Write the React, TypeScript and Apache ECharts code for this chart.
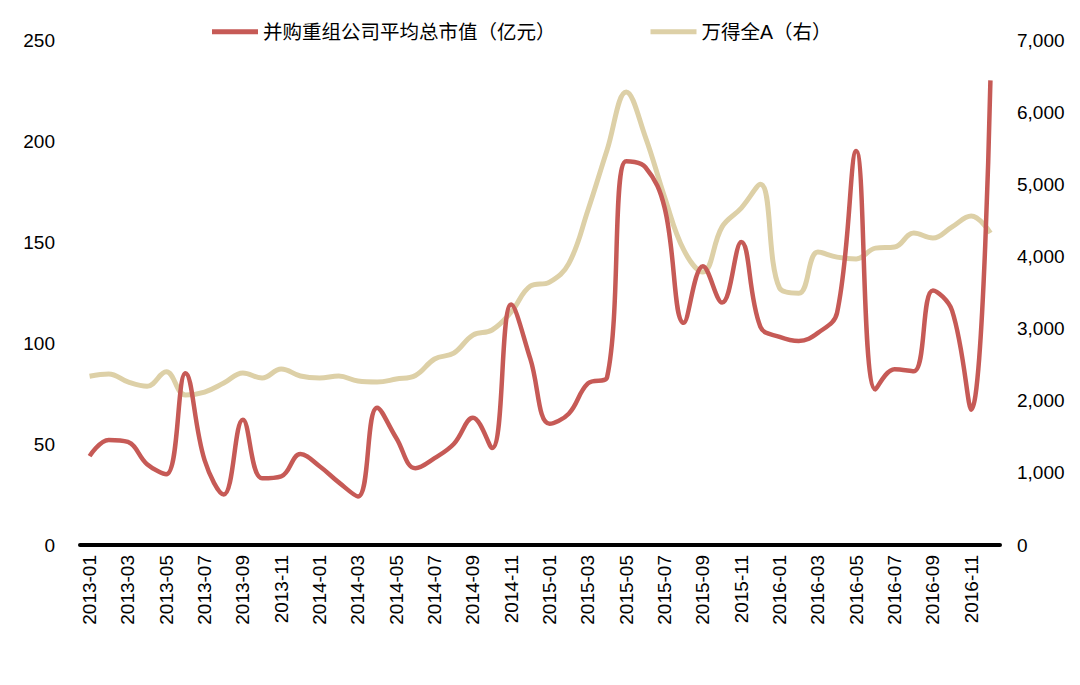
import React, { useEffect, useRef } from "react";
import * as echarts from "echarts";

const months: string[] = [];
for (let y = 2013; y <= 2016; y++) {
  for (let m = 1; m <= 12; m++) months.push(`${y}-${m < 10 ? "0" + m : m}`);
}

const mnaAvgCap = [
  44, 52, 51, 40, 35, 85, 42, 25, 62, 33,
  34, 45, 39, 31, 24, 68, 53, 38, 43, 50,
  63, 48, 119, 92, 60, 65, 80, 83, 190, 187,
  167, 110, 138, 120, 150, 108, 103, 101, 105, 115,
  195, 77, 87, 86, 126, 116, 67, 230,
];

const windA = [
  2340, 2370, 2260, 2200, 2400, 2080, 2120, 2245, 2384, 2315,
  2440, 2342, 2315, 2342, 2273, 2260, 2300, 2350, 2578, 2660,
  2910, 2980, 3230, 3590, 3645, 3900, 4640, 5475, 6280, 5655,
  4823, 4090, 3784, 4410, 4670, 5000, 3560, 3490, 4060, 3990,
  3965, 4115, 4130, 4325, 4255, 4410, 4560, 4325,
];

const leftTicks = { min: 0, max: 250, interval: 50 };
const rightTicks = { min: 0, max: 7000, interval: 1000 };

const seriesNames = ["并购重组公司平均总市值（亿元）", "万得全A（右）"];
const colors = ["#C65A56", "#DDD0A7"];

export default function App() {
  const ref = useRef<HTMLDivElement>(null);
  useEffect(() => {
    if (!ref.current) return;
    const chart = echarts.init(ref.current, undefined, { renderer: "svg" });
    const font = "'Liberation Sans', Arial, 'Noto Sans CJK SC', sans-serif";
    chart.setOption({
      animation: false,
      textStyle: { fontFamily: font },
      legend: {
        top: 17,
        left: 207,
        itemGap: 95,
        itemWidth: 46,
        itemHeight: 5,
        icon: "rect",
        textStyle: { fontSize: 19.5, color: "#000", fontFamily: font },
        data: seriesNames,
      },
      grid: { left: 80, right: 80, top: 40, bottom: 140 },
      xAxis: {
        type: "category",
        data: months,
        boundaryGap: true,
        axisLine: { lineStyle: { color: "#000", width: 4 } },
        axisTick: { show: false },
        axisLabel: {
          interval: 1,
          rotate: 90,
          color: "#000",
          fontSize: 19,
          margin: 10,
          fontFamily: font,
        },
      },
      yAxis: [
        {
          type: "value",
          ...leftTicks,
          splitLine: { show: false },
          axisLine: { show: false },
          axisTick: { show: false },
          axisLabel: { color: "#000", fontSize: 19, margin: 25, fontFamily: font },
        },
        {
          type: "value",
          ...rightTicks,
          splitLine: { show: false },
          axisLine: { show: false },
          axisTick: { show: false },
          axisLabel: {
            color: "#000",
            fontSize: 19,
            margin: 17,
            fontFamily: font,
            formatter: (v: number) => v.toLocaleString("en-US"),
          },
        },
      ],
      series: [
        {
          name: seriesNames[0],
          type: "line",
          data: mnaAvgCap,
          yAxisIndex: 0,
          smooth: 0.4,
          showSymbol: false,
          symbol: "none",
          lineStyle: { color: colors[0], width: 4.5 },
          itemStyle: { color: colors[0] },
          z: 3,
        },
        {
          name: seriesNames[1],
          type: "line",
          data: windA,
          yAxisIndex: 1,
          smooth: 0.4,
          showSymbol: false,
          symbol: "none",
          lineStyle: { color: colors[1], width: 5 },
          itemStyle: { color: colors[1] },
          z: 2,
        },
      ],
    });
    return () => chart.dispose();
  }, []);
  return (
    <div
      ref={ref}
      style={{ position: "fixed", left: 0, top: 0, width: 1080, height: 685, background: "#fff" }}
    />
  );
}
